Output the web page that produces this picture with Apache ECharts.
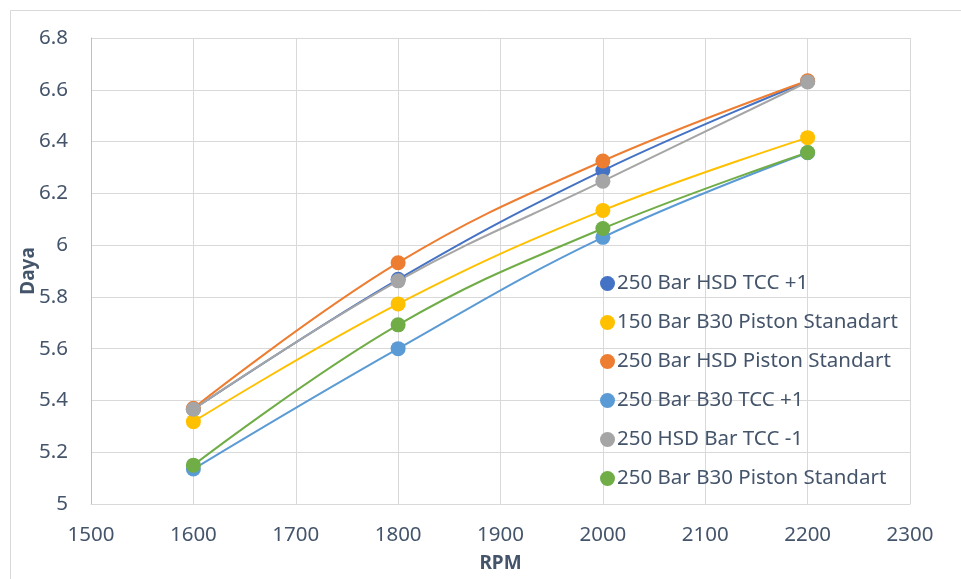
<!DOCTYPE html>
<html><head><meta charset="utf-8">
<script src="https://cdn.jsdelivr.net/npm/echarts@6/dist/echarts.min.js"></script>
<style>html,body{margin:0;padding:0;background:#fff}#c{width:961px;height:579px}</style>
</head><body><div id="c"></div>
<script>
const rpm = [1600, 1800, 2000, 2200];
const seriesNames = [
  "250 Bar HSD TCC +1",
  "150 Bar B30 Piston Stanadart",
  "250 Bar HSD Piston Standart",
  "250 Bar B30 TCC +1",
  "250 HSD Bar TCC -1",
  "250 Bar B30 Piston Standart"
];
const hsdTccPlus1 = [5.366, 5.868, 6.288, 6.633];
const b30PistonStanadart150 = [5.318, 5.773, 6.134, 6.415];
const hsdPistonStandart = [5.370, 5.932, 6.325, 6.635];
const b30TccPlus1 = [5.135, 5.600, 6.030, 6.357];
const hsdTccMinus1 = [5.366, 5.862, 6.247, 6.630];
const b30PistonStandart = [5.150, 5.692, 6.064, 6.358];
const colors = ["#4472C4", "#FFC000", "#ED7D31", "#5B9BD5", "#A5A5A5", "#70AD47"];
const allValues = [hsdTccPlus1, b30PistonStanadart150, hsdPistonStandart, b30TccPlus1, hsdTccMinus1, b30PistonStandart];

const txt = "#44546A";
const font = "Noto Sans";
const chart = echarts.init(document.getElementById('c'), null, {renderer: 'canvas'});
chart.setOption({
  animation: false,
  color: colors,
  textStyle: {fontFamily: font},
  graphic: [{
    type: 'rect', left: 8, top: 8, z: -10, silent: true,
    shape: {width: 1000, height: 620},
    style: {fill: 'none', stroke: '#d9d9d9', lineWidth: 1}
  }],
  grid: {left: 91, right: 51, top: 38, bottom: 75},
  legend: {
    orient: 'vertical', left: 595, top: 268,
    icon: 'circle', itemWidth: 15, itemHeight: 15, itemGap: 18,
    textStyle: {fontFamily: font, fontSize: 20.5, color: txt, padding: [0, 0, 0, -3]},
    data: seriesNames
  },
  xAxis: {
    type: 'value', min: 1500, max: 2300, interval: 100,
    name: 'RPM', nameLocation: 'middle', nameGap: 50,
    nameTextStyle: {fontFamily: font, fontSize: 19, fontWeight: 'bold', color: txt},
    axisLine: {show: true, lineStyle: {color: '#d9d9d9', width: 1}},
    axisTick: {show: false},
    axisLabel: {fontFamily: font, fontSize: 20.5, color: txt, margin: 21,
      formatter: v => String(v)},
    splitLine: {show: true, lineStyle: {color: '#d9d9d9', width: 1}}
  },
  yAxis: {
    type: 'value', min: 5, max: 6.8, interval: 0.2,
    name: 'Daya', nameLocation: 'middle', nameGap: 53, nameRotate: 90,
    nameMoveOverlap: false,
    nameTextStyle: {fontFamily: font, fontSize: 19, fontWeight: 'bold', color: txt},
    axisLine: {show: true, lineStyle: {color: '#bfbfbf', width: 1}},
    axisTick: {show: false},
    axisLabel: {fontFamily: font, fontSize: 20.5, color: txt, margin: 23,
      formatter: v => String(Math.round(v * 10) / 10)},
    splitLine: {show: true, lineStyle: {color: '#d9d9d9', width: 1}}
  },
  series: seriesNames.map((n, i) => ({
    name: n, type: 'line', smooth: 0.4,
    data: rpm.map((x, j) => [x, allValues[i][j]]),
    symbol: 'circle', symbolSize: 15,
    lineStyle: {width: 2, color: colors[i]},
    itemStyle: {color: colors[i]}
  }))
});
</script></body></html>
